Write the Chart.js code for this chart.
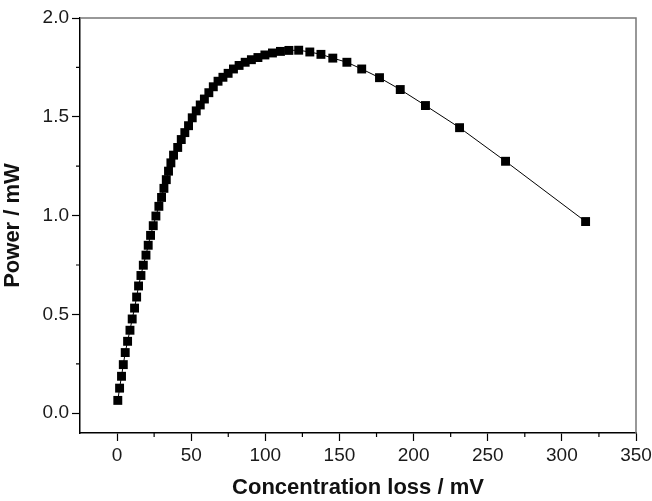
<!DOCTYPE html>
<html>
<head>
<meta charset="utf-8">
<script src="https://cdn.jsdelivr.net/npm/chart.js@4.4.0/dist/chart.umd.min.js"></script>
<style>
  html, body { margin: 0; padding: 0; background: #fff; }
  #wrap { width: 652px; height: 501px; }
</style>
</head>
<body>
<div id="wrap"><canvas id="myChart" width="652" height="501"></canvas></div>
<script>
// concentration loss (mV) and power (mW)
const lossMv = [
  0.5, 1.7, 3.0, 4.2, 5.5, 7.1, 8.7, 10.2, 11.8, 13.2,
  14.5, 16.1, 17.7, 19.5, 21.0, 22.6, 24.4, 26.2, 28.2, 30.0,
  31.6, 33.2, 34.7, 36.3, 38.1, 40.9, 43.3, 45.7, 48.2, 50.7,
  53.4, 56.1, 58.9, 61.9, 64.9, 68.1, 71.4, 74.9, 78.5, 82.3,
  86.4, 90.6, 95.0, 99.7, 104.8, 110.2, 115.9, 122.5, 130.0, 137.5,
  145.5, 155.0, 165.0, 177.0, 191.0, 208.0, 231.0, 262.0, 316.0
];
const powerMw = [
  0.065, 0.127, 0.187, 0.246, 0.307, 0.364, 0.42, 0.477, 0.532, 0.588,
  0.644, 0.697, 0.749, 0.80, 0.85, 0.90, 0.949, 0.998, 1.047, 1.092,
  1.138, 1.182, 1.225, 1.267, 1.306, 1.345, 1.385, 1.42, 1.455, 1.495,
  1.53, 1.56, 1.59, 1.622, 1.652, 1.68, 1.70, 1.72, 1.742, 1.76,
  1.776, 1.789, 1.80, 1.813, 1.823, 1.831, 1.836, 1.837, 1.828, 1.816,
  1.797, 1.776, 1.742, 1.698, 1.638, 1.557, 1.445, 1.275, 0.97
];
const xTickLabels = [0, 50, 100, 150, 200, 250, 300, 350];
const yTickLabels = [0, 0.5, 1.0, 1.5, 2.0];

function isMajor(list, v) {
  return list.some((t) => Math.abs(t - v) < 1e-6);
}
function inRange(v) {
  return v > -1e-6;
}

// minor ticks (shorter) and the grey frame on top / right
const frameAndMinor = {
  id: "frameAndMinor",
  afterDraw(chart) {
    const ctx = chart.ctx;
    const area = chart.chartArea;
    const xs = chart.scales.x;
    const ys = chart.scales.y;
    ctx.save();
    ctx.strokeStyle = "#777";
    ctx.lineWidth = 1.5;
    ctx.beginPath();
    ctx.moveTo(area.left, area.top);
    ctx.lineTo(area.right, area.top);
    ctx.lineTo(area.right, area.bottom);
    ctx.stroke();

    ctx.strokeStyle = "#000";
    ctx.lineWidth = 1.2;
    ctx.beginPath();
    xs.ticks.forEach((t) => {
      if (!inRange(t.value) || isMajor(xTickLabels, t.value)) return;
      const px = xs.getPixelForValue(t.value);
      ctx.moveTo(px, area.bottom);
      ctx.lineTo(px, area.bottom + 4);
    });
    ys.ticks.forEach((t) => {
      if (!inRange(t.value) || isMajor(yTickLabels, t.value)) return;
      const py = ys.getPixelForValue(t.value);
      ctx.moveTo(area.left, py);
      ctx.lineTo(area.left - 4, py);
    });
    ctx.stroke();
    ctx.restore();
  },
};

const points = lossMv.map((v, i) => ({ x: v, y: powerMw[i] }));

new Chart(document.getElementById("myChart"), {
  type: "scatter",
  data: {
    datasets: [
      {
        data: points,
        showLine: true,
        borderColor: "#000",
        borderWidth: 1,
        backgroundColor: "#000",
        pointStyle: "rect",
        pointRadius: 6.3,
        pointBorderWidth: 0,
      },
    ],
  },
  options: {
    responsive: false,
    animation: false,
    layout: { padding: { top: 18, right: 0, left: 0, bottom: 0 } },
    plugins: {
      legend: { display: false },
      tooltip: { enabled: false },
    },
    scales: {
      x: {
        type: "linear",
        min: -25,
        max: 350,
        ticks: {
          stepSize: 25,
          includeBounds: false,
          autoSkip: false,
          maxRotation: 0,
          color: "#1a1a1a",
          font: { family: "Liberation Sans, Arial", size: 19 },
          padding: 3,
          callback: (v) => (inRange(v) && isMajor(xTickLabels, v) ? String(Math.round(v)) : ""),
        },
        grid: {
          drawOnChartArea: false,
          tickLength: 8,
          tickWidth: 1.2,
          tickColor: (c) =>
            c.tick && inRange(c.tick.value) && isMajor(xTickLabels, c.tick.value) ? "#000" : "rgba(0,0,0,0)",
        },
        border: { color: "#000", width: 1.5 },
        title: {
          display: true,
          text: "Concentration loss / mV",
          color: "#111",
          font: { family: "Liberation Sans, Arial", size: 22, weight: "bold" },
          padding: { top: 15, bottom: 0 },
        },
        afterFit: (s) => {
          s.height = 68;
          s.paddingRight = 16;
          s.paddingLeft = 0;
        },
      },
      y: {
        min: -0.1,
        max: 2.0,
        ticks: {
          stepSize: 0.25,
          includeBounds: false,
          autoSkip: false,
          color: "#1a1a1a",
          font: { family: "Liberation Sans, Arial", size: 19 },
          padding: 3,
          callback: (v) => (inRange(v) && isMajor(yTickLabels, v) ? Math.abs(v).toFixed(1) : ""),
        },
        grid: {
          drawOnChartArea: false,
          tickLength: 8,
          tickWidth: 1.2,
          tickColor: (c) =>
            c.tick && inRange(c.tick.value) && isMajor(yTickLabels, c.tick.value) ? "#000" : "rgba(0,0,0,0)",
        },
        border: { color: "#000", width: 1.5 },
        title: {
          display: true,
          text: "Power / mW",
          color: "#111",
          font: { family: "Liberation Sans, Arial", size: 22, weight: "bold" },
          padding: { top: 0, bottom: 8 },
        },
        afterFit: (s) => { s.width = 80; },
      },
    },
  },
  plugins: [frameAndMinor],
});
</script>
</body>
</html>
